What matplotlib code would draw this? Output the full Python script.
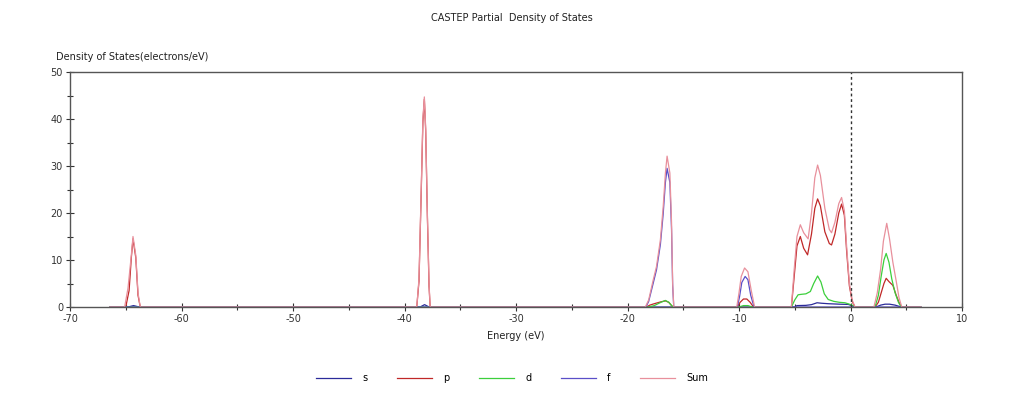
import matplotlib
matplotlib.use("Agg")
import matplotlib.pyplot as plt
from matplotlib.ticker import MultipleLocator

plt.rcParams["axes.unicode_minus"] = False

# Partial DOS (energy in eV, DOS in electrons/eV)
s_e = [-66.4, -64.8, -64.3, -63.8, -38.6, -38.2, -37.8,
       -5.0, -4.8, -4.0, -3.5, -3.0, -2.6, -2.0, -1.0, -0.2, 0.1, 0.4,
       2.3, 2.7, 3.1, 3.5, 4.0, 4.4, 4.6, 6.3]
s_v = [0, 0, 0.3, 0, 0, 0.5, 0,
       0, 0.3, 0.35, 0.5, 0.9, 0.8, 0.7, 0.6, 0.55, 0.3, 0,
       0, 0.4, 0.6, 0.6, 0.4, 0.1, 0, 0]

p_e = [-66.4, -65.0, -64.7, -64.5, -64.35, -64.1, -63.9, -63.7,
       -38.9, -38.7, -38.5, -38.35, -38.22, -38.1, -37.95, -37.8, -37.7,
       -18.3, -18.0, -17.6, -17.0, -16.6, -16.3, -16.05, -15.9,
       -10.15, -9.9, -9.6, -9.3, -9.0, -8.7,
       -5.3, -5.05, -4.8, -4.5, -4.2, -3.85, -3.5, -3.2, -2.95, -2.7, -2.3,
       -1.9, -1.7, -1.4, -1.05, -0.8, -0.55, -0.35, -0.1, 0.15, 0.4,
       2.2, 2.5, 2.75, 3.0, 3.2, 3.45, 3.8, 4.1, 4.4, 4.6, 6.3]
p_v = [0, 0, 3.5, 10.5, 14.5, 10.5, 2.5, 0,
       0, 5.5, 24.5, 39.5, 44.2, 37.5, 19.5, 4.5, 0,
       0, 0.4, 0.7, 1.1, 1.3, 1.0, 0.3, 0,
       0, 1.0, 1.7, 1.7, 1.0, 0,
       0, 6.5, 13, 15, 12.5, 11.1, 15.5, 21, 23, 21.5, 16,
       13.5, 13.2, 15.5, 20, 21.9, 19.5, 12, 4.5, 1.2, 0,
       0, 1.0, 3.0, 5.0, 6.1, 5.4, 4.6, 2.5, 0.7, 0, 0]

d_e = [-66.4, -18.1, -17.6, -17.0, -16.6, -16.3, -16.0, -15.9,
       -10.0, -9.6, -9.2, -8.8,
       -5.3, -5.0, -4.7, -4.4, -4.0, -3.6, -3.3, -2.95, -2.65, -2.35, -2.0,
       -1.5, -1.0, -0.5, -0.1, 0.2, 0.4,
       2.2, 2.5, 2.75, 3.0, 3.2, 3.45, 3.7, 4.0, 4.3, 4.55, 6.3]
d_v = [0, 0, 0.3, 1.0, 1.4, 1.0, 0.2, 0,
       0, 0.3, 0.3, 0,
       0, 1.5, 2.6, 2.7, 2.8, 3.3, 5.0, 6.6, 5.3, 2.8, 1.6,
       1.2, 1.0, 0.9, 0.6, 0.3, 0,
       0, 2.5, 6.5, 10, 11.4, 9.5, 6, 3, 1, 0, 0]

f_e = [-66.4, -18.35, -18.1, -17.7, -17.4, -17.05, -16.8, -16.6, -16.45,
       -16.2, -16.05, -15.95, -15.85,
       -10.15, -9.95, -9.75, -9.45, -9.2, -8.95, -8.65, 6.3]
f_v = [0, 0, 1.2, 5.0, 7.9, 13.3, 19.8, 26.5, 29.5,
       26.5, 16.5, 4.5, 0,
       0, 2.2, 5.2, 6.5, 5.8, 2.5, 0, 0]

sum_e = [-66.4, -65.1, -64.8, -64.5, -64.35, -64.1, -63.9, -63.7,
         -38.9, -38.7, -38.5, -38.35, -38.22, -38.1, -37.95, -37.8, -37.7,
         -18.4, -18.1, -17.7, -17.4, -17.05, -16.8, -16.6, -16.45, -16.2,
         -16.05, -15.95, -15.85,
         -10.2, -10.0, -9.8, -9.5, -9.2, -8.9, -8.6,
         -5.3, -5.05, -4.8, -4.5, -4.2, -3.8, -3.5, -3.2, -2.95, -2.7, -2.3,
         -1.9, -1.7, -1.4, -1.05, -0.8, -0.55, -0.35, -0.1, 0.15, 0.4,
         2.1, 2.4, 2.7, 2.95, 3.25, 3.5, 3.8, 4.1, 4.35, 4.6, 6.3]
sum_v = [0, 0, 4, 11, 15, 11, 3, 0,
         0, 6, 25, 40, 44.7, 38, 20, 5, 0,
         0, 1.5, 5.7, 8.6, 14.3, 21.3, 28.5, 32.1, 28.5,
         17.9, 5, 0,
         0, 3, 6.5, 8.3, 7.5, 3.5, 0,
         0, 8, 15, 17.5, 15.8, 14.5, 20, 27.5, 30.2, 28, 21,
         16.5, 15.8, 18, 22, 23.3, 20.5, 13, 5, 1.5, 0,
         0, 3, 8, 14, 17.8, 14.5, 9.5, 5.5, 2, 0, 0]

series = [("s", s_e, s_v, "#2b2b9a"),
          ("p", p_e, p_v, "#c02828"),
          ("d", d_e, d_v, "#3ccf3c"),
          ("f", f_e, f_v, "#5a4fc8"),
          ("Sum", sum_e, sum_v, "#e8909c")]

fig = plt.figure(figsize=(10.24, 3.94), dpi=100)
ax = fig.add_axes([70 / 1024, 1 - 307 / 394, 892 / 1024, 235 / 394])

for name, e, v, color in series:
    ax.plot(e, v, color=color, linewidth=0.9, label=name)

# Fermi level
ax.plot([0, 0], [0, 50], color="#333333", linewidth=1.0, linestyle=(0, (2, 2)))

ax.set_xlim(-70, 10)
ax.set_ylim(0, 50)
ax.xaxis.set_major_locator(MultipleLocator(10))
ax.xaxis.set_minor_locator(MultipleLocator(5))
ax.yaxis.set_major_locator(MultipleLocator(10))
ax.yaxis.set_minor_locator(MultipleLocator(5))
ax.tick_params(which="major", direction="inout", length=6, width=0.8,
               labelsize=7, colors="#333333", pad=2)
ax.tick_params(which="minor", direction="inout", length=4, width=0.8,
               colors="#333333")
for sp in ax.spines.values():
    sp.set_color("#555555")
    sp.set_linewidth(1.0)

fig.text(0.5, 1 - 18 / 394, "CASTEP Partial  Density of States",
         ha="center", va="center", fontsize=7, color="#222222")
fig.text(56 / 1024, 1 - 57 / 394, "Density of States(electrons/eV)",
         ha="left", va="center", fontsize=7, color="#222222")
fig.text((70 + 962) / 2 / 1024, 1 - 336 / 394, "Energy (eV)",
         ha="center", va="center", fontsize=7, color="#222222")

fig.legend(loc="center", bbox_to_anchor=(0.5, 1 - 378 / 394), ncol=5,
           frameon=False, fontsize=7, handlelength=3.6, handletextpad=1.2,
           columnspacing=3.0)

fig.savefig("out.png", dpi=100)
